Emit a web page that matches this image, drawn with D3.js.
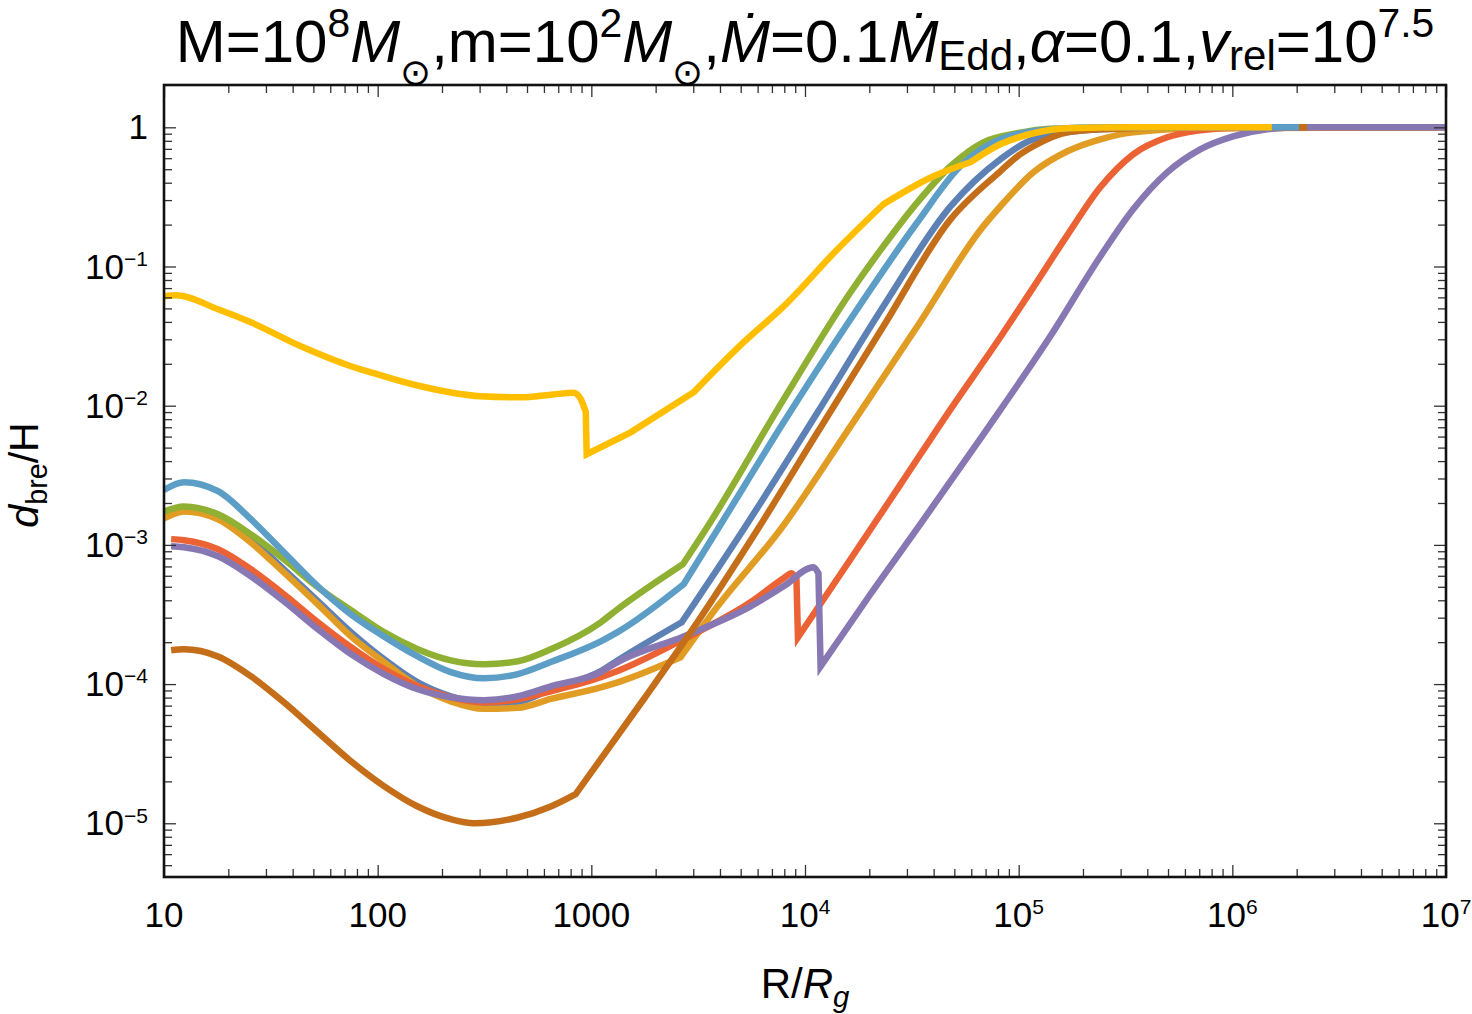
<!DOCTYPE html>
<html><head><meta charset="utf-8">
<script src="https://cdn.jsdelivr.net/npm/d3@7"></script>
<style>
body{margin:0;background:#fff}
svg{display:block}
text{font-family:"Liberation Sans",Arial,Helvetica,sans-serif;fill:#000}
</style>
</head><body>
<svg id="chart" width="1472" height="1014"></svg>
<script>
// ---------------- DATA ----------------
const seriesNames = ["darkBlue","orange","green","red","purple","brown","lightBlue","yellow"];

const R_darkBlue = [10,12.4,17.9,25.5,36.4,52.5,75,107,154,220,314,453,646,1107,1327,2650,5152,11455,23280,47970,82030,117200,241000,707900,1e7];
const d_darkBlue = [0.00169,0.00183,0.00160,0.00110,0.000668,0.000394,0.000236,0.000151,0.000103,0.0000817,0.0000722,0.0000745,0.0000918,0.000124,0.000148,0.000278,0.00129,0.00897,0.0518,0.270,0.589,0.820,0.968,1,1];
const kinks_darkBlue = [15];

const R_orange = [10,12.4,17.9,25.5,36.4,52.5,75,107,154,220,314,453,646,1107,1327,2618,3899,7674,16330,33570,68390,82030,117200,169000,241000,343600,707900,1e7];
const d_orange = [0.00155,0.00174,0.00153,0.00104,0.000635,0.000374,0.000220,0.000144,0.0000964,0.0000752,0.0000665,0.0000675,0.0000782,0.0000948,0.000103,0.000156,0.000362,0.00129,0.00711,0.0372,0.195,0.270,0.475,0.673,0.820,0.920,0.984,1];
const kinks_orange = [15];

const R_green = [10,12.4,17.9,25.5,36.4,52.5,75,107,154,220,314,453,646,1107,1327,2680,3430,7943,16330,23280,33570,47970,68390,98620,140600,707900,1e7];
const d_green = [0.00174,0.00189,0.00166,0.00119,0.000788,0.000496,0.000339,0.000236,0.000178,0.000148,0.000139,0.000146,0.000178,0.000278,0.000345,0.000726,0.00129,0.0111,0.0653,0.140,0.289,0.525,0.780,0.906,0.975,1,1];
const kinks_green = [15];

const R_red = [10.8,12.4,17.9,25.5,36.4,52.5,75,107,154,220,314,453,646,1107,1327,2704,5559,7943,8650,9120,9270,16330,27990,47970,82030,117200,169000,241000,343600,495500,707900,1009000,2075000,1e7];
const d_red = [0.00110,0.00108,0.000930,0.000668,0.000442,0.000278,0.000184,0.000128,0.0000964,0.0000804,0.0000740,0.0000778,0.0000887,0.000112,0.000124,0.000210,0.000387,0.000575,0.000625,0.000566,0.000217,0.000788,0.00272,0.00942,0.0310,0.0709,0.168,0.371,0.640,0.848,0.952,0.99,1,1];
const kinks_red = [19,20];

const R_purple = [10.8,12.4,17.9,25.5,36.4,52.5,75,107,154,220,314,453,646,1107,1327,2704,5559,7943,10965,11560,11830,20230,34670,68390,140600,241000,343600,495500,707900,1009000,1455000,2075000,1e7];
const d_purple = [0.000977,0.000962,0.000828,0.000595,0.000394,0.000248,0.000164,0.000118,0.0000918,0.0000804,0.0000766,0.0000817,0.0000964,0.000122,0.000144,0.000220,0.000362,0.000504,0.000690,0.000625,0.000134,0.000442,0.00141,0.00623,0.0315,0.118,0.258,0.475,0.695,0.861,0.968,1,1];
const kinks_purple = [19,20];

const R_brown = [10.8,12.4,17.9,25.5,36.4,52.5,75,107,154,220,282,453,646,845,1758,2917,5998,11455,23280,47970,82030,98620,117200,169000,241000,707900,2240000];
const d_brown = [0.000175,0.000178,0.000158,0.000114,0.0000740,0.0000451,0.0000279,0.0000185,0.0000132,0.0000107,0.0000100,0.0000110,0.0000132,0.0000162,0.0000778,0.000236,0.00129,0.00644,0.0372,0.218,0.483,0.619,0.731,0.920,0.968,1,1];
const kinks_brown = [13];

const R_lightBlue = [10,12.4,17.9,25.5,36.4,52.5,75,107,154,220,314,453,646,1107,1327,2704,3899,7943,16330,33570,53330,82030,140600,241000,2050000];
const d_lightBlue = [0.00248,0.00282,0.00243,0.00153,0.000885,0.000504,0.000317,0.000220,0.000158,0.000122,0.000110,0.000118,0.000144,0.000203,0.000236,0.000521,0.00129,0.00760,0.0418,0.208,0.525,0.820,0.968,1,1];
const kinks_lightBlue = [15];

const R_yellow = [10,11.4,17.9,25.5,43.7,75,100,159,303,468,646,826,891,942,951,1528,3013,5152,7943,14190,23280,39900,59430,82030,117200,169000,343600,1530000];
const d_yellow = [0.0611,0.0621,0.0493,0.0397,0.0267,0.0192,0.0168,0.0138,0.0117,0.0115,0.0120,0.0124,0.0112,0.0090,0.00448,0.00644,0.0125,0.0285,0.0517,0.133,0.280,0.445,0.561,0.755,0.906,0.984,1,1];
const kinks_yellow = [13,14,15,16,20,22];

const xTickValues = [10,100,1000,1e4,1e5,1e6,1e7];
const xTickBase = ["10","100","1000","10","10","10","10"];
const xTickExp = ["","","","4","5","6","7"];
const yTickValues = [1,0.1,0.01,1e-3,1e-4,1e-5];
const yTickBase = ["1","10","10","10","10","10"];
const yTickExp = ["","\u22121","\u22122","\u22123","\u22124","\u22125"];

// ---------------- STYLE / LAYOUT ----------------
const palette = {darkBlue:"#5E81B5",orange:"#E19C24",green:"#8FB032",red:"#EB6235",purple:"#8778B3",brown:"#C56E1A",lightBlue:"#5D9EC7",yellow:"#FFBF00"};
const L=164,Rr=1446,T=85,B=877;

const svg = d3.select("#chart");
const x = d3.scaleLog().domain([10,1e7]).range([L,Rr]);
const y = d3.scaleLog().domain([Math.pow(10,-5.386),Math.pow(10,0.304)]).range([B,T]);

svg.append("defs").append("clipPath").attr("id","clip")
  .append("rect").attr("x",L).attr("y",T).attr("width",Rr-L).attr("height",B-T);

const dataMap = {
  darkBlue:[R_darkBlue,d_darkBlue,kinks_darkBlue],
  orange:[R_orange,d_orange,kinks_orange],
  green:[R_green,d_green,kinks_green],
  red:[R_red,d_red,kinks_red],
  purple:[R_purple,d_purple,kinks_purple],
  brown:[R_brown,d_brown,kinks_brown],
  lightBlue:[R_lightBlue,d_lightBlue,kinks_lightBlue],
  yellow:[R_yellow,d_yellow,kinks_yellow]
};

const lineGen = d3.line().x(p=>x(p[0])).y(p=>y(p[1])).curve(d3.curveMonotoneX);
function buildPath(Rs, ds, kinks){
  const pts = Rs.map((r,i)=>[r,ds[i]]);
  const cuts = [0,...kinks,pts.length-1];
  let path = "";
  for(let k=0;k<cuts.length-1;k++){
    const seg = pts.slice(cuts[k],cuts[k+1]+1);
    let p = lineGen(seg);
    if(k>0){ p = p.replace(/^M[^A-Za-z]*/, ""); }
    path += p;
  }
  return path;
}

const gLines = svg.append("g").attr("clip-path","url(#clip)");
seriesNames.forEach(name=>{
  const [Rs,ds,kk] = dataMap[name];
  gLines.append("path").attr("d",buildPath(Rs,ds,kk))
    .attr("fill","none").attr("stroke",palette[name]).attr("stroke-width",6.5)
    .attr("stroke-linejoin","miter").attr("stroke-linecap","butt");
});

// ---------------- TICKS ----------------
const xMinor=[], yMinor=[];
for(let e=1;e<7;e++) for(let m=2;m<10;m++) xMinor.push(m*Math.pow(10,e));
for(let e=-6;e<1;e++) for(let m=2;m<10;m++){const v=m*Math.pow(10,e); if(v>y.domain()[0]&&v<1.9) yMinor.push(v);}

function styleAxis(g){ g.select(".domain").remove(); g.selectAll(".tick line").attr("stroke","#333").attr("stroke-width",1.3); }
svg.append("g").attr("transform",`translate(0,${B})`).call(d3.axisBottom(x).tickValues(xTickValues).tickSize(-12).tickFormat("")).call(styleAxis);
svg.append("g").attr("transform",`translate(0,${B})`).call(d3.axisBottom(x).tickValues(xMinor).tickSize(-8).tickFormat("")).call(styleAxis);
svg.append("g").attr("transform",`translate(0,${T})`).call(d3.axisTop(x).tickValues(xTickValues).tickSize(-12).tickFormat("")).call(styleAxis);
svg.append("g").attr("transform",`translate(0,${T})`).call(d3.axisTop(x).tickValues(xMinor).tickSize(-8).tickFormat("")).call(styleAxis);
svg.append("g").attr("transform",`translate(${L},0)`).call(d3.axisLeft(y).tickValues(yTickValues).tickSize(-12).tickFormat("")).call(styleAxis);
svg.append("g").attr("transform",`translate(${L},0)`).call(d3.axisLeft(y).tickValues(yMinor).tickSize(-8).tickFormat("")).call(styleAxis);
svg.append("g").attr("transform",`translate(${Rr},0)`).call(d3.axisRight(y).tickValues(yTickValues).tickSize(-12).tickFormat("")).call(styleAxis);
svg.append("g").attr("transform",`translate(${Rr},0)`).call(d3.axisRight(y).tickValues(yMinor).tickSize(-8).tickFormat("")).call(styleAxis);

// frame
svg.append("rect").attr("x",L).attr("y",T).attr("width",Rr-L).attr("height",B-T)
  .attr("fill","none").attr("stroke","#111").attr("stroke-width",2.6);

// rich text helper
function rich(sel, parts, fs, opt){
  opt = opt||{};
  let cur = 0;
  parts.forEach(([t,st])=>{
    let target=0, size=fs, italic=false;
    if(st==="i"){italic=true;}
    if(st==="sup"){target=-(opt.supShift||0.42)*fs; size=fs*(opt.supSize||0.7);}
    if(st==="sub"||st==="isub"){target=(opt.subShift||0.2)*fs; size=fs*(opt.subSize||0.7); italic = st==="isub";}
    if(st==="subsym"){target=(opt.symShift||0.36)*fs; size=fs*0.62;}
    sel.append("tspan").text(t).attr("dy",target-cur).attr("font-size",size)
      .attr("font-style",italic?"italic":"normal");
    cur = target;
  });
}

// x labels
xTickValues.forEach((v,i)=>{
  const t = svg.append("text").attr("x",x(v)).attr("y",927).attr("text-anchor","middle").attr("font-size",35);
  const parts=[[xTickBase[i],""]]; if(xTickExp[i]) parts.push([xTickExp[i],"sup"]);
  rich(t,parts,35,{supShift:0.36,supSize:0.6});
});
// y labels
yTickValues.forEach((v,i)=>{
  const t = svg.append("text").attr("x",148).attr("y",y(v)+12).attr("text-anchor","end").attr("font-size",35);
  const parts=[[yTickBase[i],""]]; if(yTickExp[i]) parts.push([yTickExp[i],"sup"]);
  rich(t,parts,35,{supShift:0.36,supSize:0.6});
});

// axis titles
const xt = svg.append("text").attr("x",805).attr("y",998).attr("text-anchor","middle").attr("font-size",42);
rich(xt,[["R/",""],["R","i"],["g","isub"]],42,{subShift:0.22,subSize:0.7});
const yt = svg.append("text").attr("transform","translate(38,475) rotate(-90)").attr("text-anchor","middle").attr("font-size",41);
rich(yt,[["d","i"],["bre","sub"],["/H",""]],41,{subShift:0.22,subSize:0.7});

// title
const tt = svg.append("text").attr("x",805).attr("y",62).attr("text-anchor","middle").attr("font-size",60);
rich(tt,[["M=10",""],["8","sup"],["M","i"],["\u2299","subsym"],[",m=10",""],["2","sup"],["M","i"],["\u2299","subsym"],[",",""],
  ["\u1E40","i"],["=0.1",""],["\u1E40","i"],["Edd","sub"],[",",""],["\u03B1","i"],["=0.1,",""],["v","i"],["rel","sub"],["=10",""],["7.5","sup"]],
  60,{supShift:0.42,supSize:0.68,subShift:0.14,subSize:0.7,symShift:0.38});
</script>
</body></html>
